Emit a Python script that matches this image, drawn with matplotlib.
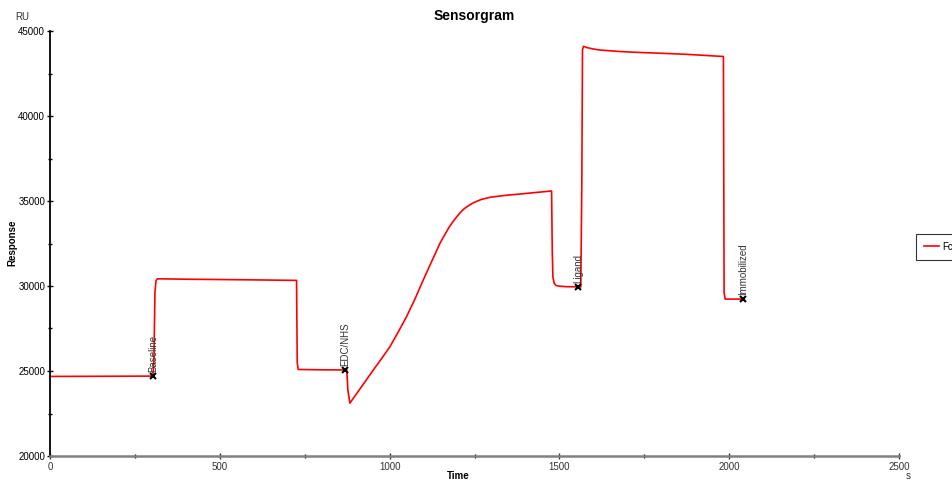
import matplotlib.pyplot as plt
from matplotlib.ticker import MultipleLocator

plt.rcParams['font.family'] = ['Liberation Sans', 'DejaVu Sans']

# sensorgram trace (time in s, response in RU)
time = [0, 150, 303, 306, 309, 312, 316, 330, 400, 500, 600, 726, 728, 731,
        800, 868, 874, 877, 883, 920, 952, 976, 1001, 1025, 1050, 1075, 1099,
        1124, 1148, 1162, 1175, 1188, 1198, 1210, 1220, 1235, 1247, 1260,
        1270, 1296, 1340, 1384, 1430, 1477, 1479, 1481, 1485, 1490, 1500,
        1521, 1556, 1563, 1566, 1568, 1571, 1580, 1600, 1620, 1680, 1727,
        1800, 1875, 1983, 1985, 1988, 2040]
response = [24680, 24690, 24700, 25600, 29600, 30300, 30420, 30420, 30400,
            30380, 30360, 30330, 25500, 25090, 25070, 25060, 25050, 23900,
            23110, 24150, 25060, 25720, 26430, 27280, 28200, 29250, 30350,
            31450, 32500, 33000, 33450, 33820, 34080, 34360, 34550, 34760,
            34900, 35010, 35090, 35220, 35330, 35410, 35500, 35590, 32000,
            30500, 30150, 30030, 29990, 29960, 29950, 29950, 36000, 43900,
            44100, 44030, 43940, 43880, 43790, 43745, 43690, 43627, 43500,
            29600, 29230, 29230]

event_names = ['Baseline', 'EDC/NHS', 'Ligand', 'Immobilized']
event_time = [303, 868, 1556, 2040]
event_resp = [24700, 25060, 29950, 29230]

fig = plt.figure(figsize=(9.52, 4.82), dpi=100)
ax = fig.add_axes([50 / 952, 26 / 482, 849 / 952, 425 / 482])

ax.plot(time, response, color='#ff0000', lw=1.2, label='Fc=4')
ax.plot(event_time, event_resp, 'x', color='black', ms=4, mew=1.5)
for name, t, r in zip(event_names, event_time, event_resp):
    ax.text(t, r + 250, name, rotation=90, ha='center', va='bottom',
            fontsize=7, color='#333333')

ax.set_xlim(0, 2500)
ax.set_ylim(20000, 45000)
ax.xaxis.set_major_locator(MultipleLocator(500))
ax.xaxis.set_minor_locator(MultipleLocator(250))
ax.yaxis.set_major_locator(MultipleLocator(5000))
ax.yaxis.set_minor_locator(MultipleLocator(2500))
ax.tick_params(which='both', direction='inout', labelsize=7, labelcolor='#333333')
ax.tick_params(which='major', length=5, width=1)
ax.tick_params(which='minor', length=3, width=1)
ax.tick_params(axis='x', colors='#333333', pad=2)
ax.tick_params(axis='y', colors='black', pad=1)

for s in ['top', 'right']:
    ax.spines[s].set_visible(False)
ax.spines['left'].set_color('black')
ax.spines['left'].set_linewidth(1.3)
ax.spines['bottom'].set_color('#808080')
ax.spines['bottom'].set_linewidth(1.8)

ax.set_title('Sensorgram', fontsize=10, fontweight='bold', pad=8)
fig.text(458 / 952, 1 - 476 / 482, 'Time', fontsize=7, fontweight='bold',
         ha='center', va='center')
fig.text(12 / 952, 1 - 243 / 482, 'Response', fontsize=7, fontweight='bold',
         rotation=90, ha='center', va='center')
fig.text(22 / 952, 1 - 17 / 482, 'RU', fontsize=7, ha='center', va='center',
         color='#333333')
fig.text(908 / 952, 1 - 476 / 482, 's', fontsize=7, ha='center', va='center',
         color='#333333')

leg = fig.legend(loc='upper left', bbox_to_anchor=(916 / 952, 1 - 234 / 482),
                 fontsize=7, frameon=True, fancybox=False, handlelength=1.6,
                 borderpad=0.8, handletextpad=0.3, borderaxespad=0)
leg.get_frame().set_edgecolor('black')
leg.get_frame().set_linewidth(0.8)

plt.savefig('out.png', dpi=100)
